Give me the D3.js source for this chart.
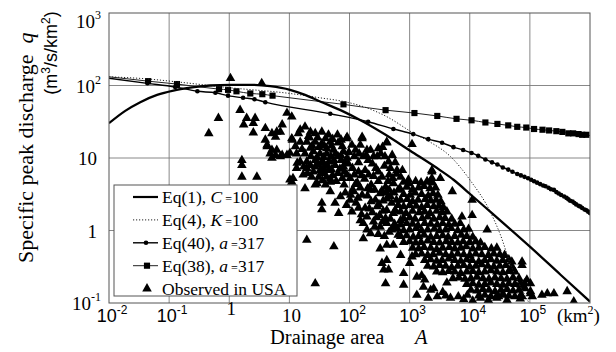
<!DOCTYPE html>
<html>
<head>
<meta charset="utf-8">
<script src="https://cdn.jsdelivr.net/npm/d3@7"></script>
<style>
  body { margin: 0; background: #fff; }
</style>
</head>
<body>
<div id="chart"></div>
<script>
// values, stored as [log10 A (km2), log10 q (m3/s/km2)]
const eq1Log = [[-2.00,1.48],[-1.73,1.65],[-1.48,1.77],[-1.20,1.87],[-0.93,1.93],[-0.65,1.97],[-0.32,2.00],
  [0.02,2.01],[0.35,2.01],[0.68,1.99],[1.01,1.94],[1.26,1.87],[1.51,1.78],[1.85,1.66],[2.23,1.50],[2.60,1.32],
  [3.01,1.10],[3.51,0.83],[3.73,0.70],[4.01,0.50],[4.34,0.26],[5.01,-0.23],[5.51,-0.61],[6.00,-0.98]];

const eq4Log = [[-2.00,2.12],[-1.35,2.09],[-0.87,2.05],[0.00,1.97],[1.01,1.89],[1.51,1.83],[1.90,1.78],[2.26,1.70],
  [2.62,1.57],[3.07,1.34],[3.34,1.22],[3.68,1.02],[4.01,0.69],[4.34,0.26],[4.51,-0.06],[4.68,-0.47],[4.83,-0.75],[4.98,-0.99]];

// first point is the line start, the rest carry a circle marker
const eq40Log = [[-2.00,2.10],[-1.36,2.03],[-0.90,1.98],[-0.53,1.92],[-0.23,1.90],[-0.02,1.86],[0.23,1.83],[0.42,1.81],
  [0.60,1.77],[1.68,1.61],[2.31,1.50],[2.73,1.40],[3.06,1.33],[3.31,1.26],[3.54,1.21],[3.73,1.15],[3.89,1.11],
  [4.03,1.07],[4.14,1.03],[4.26,0.98],[4.37,0.94],[4.46,0.91],[4.55,0.87],[4.64,0.84],[4.71,0.81],[4.79,0.78],
  [4.85,0.76],[4.91,0.74],[4.97,0.72],[5.02,0.70],[5.07,0.68],[5.12,0.66],[5.17,0.64],[5.22,0.62],[5.26,0.61],
  [5.31,0.59],[5.35,0.57],[5.40,0.56],[5.44,0.53],[5.48,0.51],[5.52,0.49],[5.57,0.47],[5.61,0.45],[5.64,0.43],
  [5.67,0.41],[5.71,0.40],[5.74,0.38],[5.77,0.36],[5.81,0.34],[5.84,0.33],[5.87,0.31],[5.91,0.29],[5.94,0.28],
  [5.97,0.26],[6.00,0.24]];

// first and last points are line ends, the rest carry a square marker
const eq38Log = [[-2.00,2.12],[-1.35,2.06],[-0.87,2.02],[-0.17,1.95],[-0.02,1.94],[0.12,1.92],[0.35,1.89],[0.55,1.88],
  [0.72,1.86],[1.90,1.74],[2.60,1.66],[3.08,1.62],[3.46,1.58],[3.78,1.54],[4.03,1.52],[4.26,1.49],[4.46,1.47],
  [4.64,1.45],[4.79,1.43],[4.94,1.42],[5.07,1.40],[5.21,1.39],[5.32,1.38],[5.44,1.37],[5.54,1.36],[5.64,1.34],
  [5.72,1.34],[5.81,1.33],[5.87,1.32],[5.94,1.32],[6.00,1.31]];

const observedLog = [
  // small basins, upper left
  [0.02,2.10],[0.54,2.03],[0.18,1.66],[-0.18,1.55],[0.29,1.55],[0.43,1.55],[0.40,1.48],[0.24,1.46],[0.40,1.35],
  [0.60,1.41],[-0.34,1.34],[0.71,1.34],[0.60,1.25],[0.79,1.36],[0.77,1.29],[0.63,1.16],[0.71,1.11],[0.68,1.06],
  [0.77,1.04],[0.88,1.04],[0.96,1.62],[1.04,1.57],[0.88,1.46],[0.85,1.36],[1.04,1.27],[0.21,0.97],[0.21,0.90],
  [0.21,0.74],[0.46,0.74],[1.01,0.70],[0.63,1.18],[0.79,1.11],[0.71,1.00],[0.85,1.02],[0.96,1.04],
  // 10 - 100 km2
  [1.18,1.39],[1.26,1.43],[1.35,1.36],[1.43,1.34],[1.54,1.36],[1.65,1.32],[1.18,1.22],[1.29,1.22],[1.43,1.22],
  [1.54,1.20],[1.62,1.13],[1.12,1.06],[1.26,1.06],[1.40,1.09],[1.51,1.06],[1.62,1.06],[1.18,0.95],[1.29,0.95],
  [1.43,0.97],[1.54,0.95],[1.12,0.86],[1.29,0.86],[1.43,0.88],[1.57,0.86],[1.65,0.83],[1.23,0.77],[1.37,0.74],
  [1.49,0.74],[1.62,0.74],[1.46,0.65],[1.60,0.63],[1.05,1.25],[1.35,1.14],[1.01,1.07],[1.13,0.93],[1.35,0.90],
  [1.06,0.72],[1.30,0.79],[1.15,1.34],[1.73,1.11],[1.80,1.32],[1.96,1.29],[1.81,1.21],[1.90,1.09],[1.81,1.02],
  [1.96,1.00],[1.76,0.90],[1.90,0.88],[1.81,0.79],[1.96,0.77],[1.68,1.22],[1.57,0.93],[1.51,0.83],
  [1.33,1.28],[1.47,1.28],[1.60,1.27],[1.72,1.26],[1.86,1.25],[1.38,1.17],[1.49,1.15],[1.58,1.17],[1.70,1.17],
  [1.88,1.16],[1.46,1.01],[1.57,1.01],[1.69,1.02],[1.74,0.97],[1.86,1.03],[1.36,1.02],[1.48,0.91],[1.63,0.90],
  [1.70,0.84],[1.84,0.85],[1.40,0.81],[1.56,0.79],[1.72,0.76],[1.88,0.72],[1.68,0.71],[1.78,0.68],[1.55,0.69],
  [1.92,0.81],[1.98,0.92],[1.99,1.08],[1.77,1.06],[1.66,0.95],[1.24,0.88],[1.21,1.12],[1.10,1.16],[1.32,1.30],
  [1.04,0.67],[1.26,0.58],[1.43,0.63],[1.68,0.67],[1.68,0.54],[1.54,0.38],[1.54,0.29],[1.82,0.24],[1.76,0.38],
  [1.85,0.47],[1.29,-0.13],[1.74,-0.22],[1.43,-0.73],
  // 100 - 1000 km2
  [2.01,0.42],[2.04,0.26],[2.15,0.31],[2.18,0.14],[2.29,0.19],[2.23,0.10],[2.29,0.01],[2.35,-0.04],[2.23,-0.11],
  [2.40,0.12],[2.51,0.05],[2.62,0.10],[2.73,0.05],[2.07,0.54],[2.21,0.49],[2.35,0.56],[2.51,0.51],[2.68,0.47],
  [2.46,0.33],[2.62,0.28],[2.73,0.24],[2.51,-0.25],[2.62,-0.20],[2.73,-0.20],[2.54,-0.45],[2.62,-0.41],[2.65,-0.54],
  [2.60,-0.73],[2.57,-0.54],
  [1.95,1.27],[2.04,1.18],[2.21,1.27],[2.18,1.18],[2.29,1.11],[2.48,1.13],[2.62,1.22],[2.46,1.02],[2.59,1.02],
  [2.23,1.02],[2.79,0.83],[2.68,0.86],[2.85,0.74],[2.73,0.65],[2.98,0.70],[3.37,0.83],[3.37,0.72],[3.51,0.72],
  [1.93,0.93],[2.05,0.86],[2.15,0.94],[2.26,0.83],[2.38,0.92],[2.48,0.81],[2.58,0.89],[2.01,0.72],[2.13,0.66],
  [2.25,0.71],[2.36,0.63],[2.48,0.68],[2.60,0.60],[2.72,0.72],[1.91,0.63],[2.05,0.56],[2.18,0.59],[2.30,0.48],
  [2.43,0.42],[2.56,0.41],[1.93,0.52],[1.95,0.35],[2.11,0.38],[2.26,0.31],[2.38,0.25],[2.50,0.21],[2.60,0.17],
  [2.81,0.35],[2.81,0.56],[2.85,0.14],[2.81,-0.06],[2.78,0.42],[2.35,1.11],[2.10,1.11],[1.86,0.97],[2.31,0.97],
  [2.55,1.15],[2.71,1.04],[2.76,0.94],[2.66,0.77],[2.15,0.81],[2.40,0.75],[2.61,0.52],
  [2.08,1.02],[2.16,1.06],[2.28,1.04],[2.40,1.02],[2.52,1.06],[2.65,0.95],[2.08,0.77],[2.20,0.76],[2.32,0.77],
  [2.44,0.86],[2.54,0.74],[2.64,0.68],[2.78,0.78],[2.88,0.83],[2.10,0.64],[2.30,0.58],[2.42,0.56],[2.54,0.55],
  [2.66,0.56],[2.74,0.52],[2.02,0.49],[2.14,0.45],[2.36,0.40],[2.49,0.36],[2.62,0.44],[2.70,0.38],[2.20,0.22],
  [2.33,0.30],[2.45,0.18],[2.56,0.27],[2.68,0.16],[2.76,0.28],[2.42,0.05],[2.55,0.12],[2.66,-0.02],[2.48,-0.05],
  [2.58,-0.08],
  [2.62,1.21],[3.04,1.19],[2.21,1.29],[3.37,0.81],
  // dense band, 1000 - 100000 km2
  [2.90,0.67],[2.99,0.65],[3.10,0.68],[3.19,0.66],[3.29,0.68],[3.38,0.66],
  [2.84,0.58],[2.95,0.60],[3.05,0.57],[3.15,0.59],[3.24,0.61],[3.34,0.58],[3.43,0.59],
  [2.90,0.50],[3.01,0.49],[3.09,0.52],[3.20,0.50],[3.31,0.48],[3.39,0.51],[3.47,0.49],
  [2.85,0.42],[2.96,0.43],[3.05,0.40],[3.14,0.42],[3.26,0.43],[3.35,0.41],[3.44,0.42],[3.52,0.40],
  [2.90,0.33],[3.00,0.35],[3.11,0.34],[3.20,0.32],[3.29,0.35],[3.40,0.33],[3.49,0.34],[3.56,0.32],
  [2.85,0.26],[2.94,0.24],[3.05,0.27],[3.16,0.25],[3.25,0.26],[3.34,0.24],[3.45,0.27],[3.54,0.25],[3.62,0.26],
  [2.90,0.17],[3.00,0.18],[3.09,0.16],[3.21,0.17],[3.30,0.19],[3.40,0.16],[3.50,0.18],[3.59,0.17],[3.70,0.16],
  [2.75,0.09],[2.85,0.08],[2.95,0.10],[3.05,0.09],[3.14,0.07],[3.25,0.10],[3.35,0.09],[3.46,0.08],[3.55,0.10],
  [3.65,0.08],[3.75,0.09],[3.84,0.10],
  [2.70,0.01],[2.80,0.02],[2.90,0.00],[3.00,0.01],[3.11,0.03],[3.20,0.00],[3.30,0.01],[3.41,0.02],[3.50,0.00],
  [3.60,0.01],[3.69,0.03],[3.80,0.00],[3.90,0.01],[3.98,0.02],
  [2.85,-0.08],[2.95,-0.07],[3.06,-0.09],[3.15,-0.08],[3.24,-0.06],[3.35,-0.09],[3.45,-0.08],[3.55,-0.07],
  [3.64,-0.09],[3.75,-0.08],[3.86,-0.06],[3.95,-0.08],[4.05,-0.09],
  [2.90,-0.16],[3.00,-0.15],[3.10,-0.17],[3.19,-0.16],[3.30,-0.14],[3.40,-0.16],[3.50,-0.17],[3.61,-0.15],
  [3.70,-0.16],[3.80,-0.17],[3.89,-0.15],[4.00,-0.16],[4.10,-0.15],[4.18,-0.17],
  [3.05,-0.24],[3.15,-0.25],[3.24,-0.23],[3.35,-0.24],[3.45,-0.26],[3.55,-0.24],[3.66,-0.23],[3.75,-0.25],
  [3.85,-0.24],[3.94,-0.22],[4.05,-0.25],[4.15,-0.24],[4.25,-0.23],[4.36,-0.25],[4.45,-0.24],
  [3.10,-0.33],[3.20,-0.32],[3.30,-0.34],[3.39,-0.33],[3.50,-0.31],[3.60,-0.33],[3.70,-0.34],[3.80,-0.32],
  [3.90,-0.33],[4.00,-0.34],[4.10,-0.32],[4.20,-0.33],[4.31,-0.34],[4.40,-0.32],[4.50,-0.33],[4.58,-0.34],
  [3.25,-0.41],[3.35,-0.40],[3.45,-0.42],[3.54,-0.41],[3.65,-0.39],[3.75,-0.41],[3.85,-0.42],[3.95,-0.40],
  [4.04,-0.41],[4.15,-0.43],[4.25,-0.41],[4.35,-0.40],[4.45,-0.42],[4.55,-0.41],[4.65,-0.40],
  [3.30,-0.49],[3.40,-0.50],[3.50,-0.48],[3.60,-0.49],[3.70,-0.51],[3.80,-0.49],[3.90,-0.48],[4.00,-0.50],
  [4.10,-0.49],[4.20,-0.47],[4.30,-0.49],[4.40,-0.50],[4.50,-0.49],[4.60,-0.48],[4.70,-0.50],
  [3.45,-0.57],[3.55,-0.58],[3.65,-0.56],[3.75,-0.57],[3.85,-0.59],[3.95,-0.57],[4.05,-0.56],[4.15,-0.58],
  [4.25,-0.57],[4.35,-0.55],[4.45,-0.57],[4.55,-0.58],[4.65,-0.56],[4.75,-0.57],
  [3.72,-0.66],[3.82,-0.65],[3.92,-0.67],[4.02,-0.66],[4.12,-0.64],[4.22,-0.66],[4.32,-0.67],[4.42,-0.65],
  [4.52,-0.66],[4.62,-0.67],[4.72,-0.65],[4.82,-0.66],
  [3.95,-0.74],[4.05,-0.73],[4.15,-0.75],[4.25,-0.74],[4.35,-0.72],[4.45,-0.74],[4.55,-0.75],[4.65,-0.73],
  [4.75,-0.74],[4.85,-0.75],[4.91,-0.73],
  [4.02,-0.82],[4.12,-0.83],[4.22,-0.81],[4.32,-0.82],[4.42,-0.84],[4.52,-0.82],[4.62,-0.81],[4.72,-0.83],
  [4.82,-0.82],[4.92,-0.80],
  [4.15,-0.90],[4.25,-0.89],[4.35,-0.91],[4.45,-0.90],[4.55,-0.88],[4.65,-0.90],[4.75,-0.91],[4.85,-0.89],
  // scattered edges of the band
  [2.90,-0.59],[2.90,-0.75],[3.04,-0.36],[3.12,-0.64],[3.23,-0.78],[3.12,-0.89],[3.31,-0.93],[3.46,-0.91],
  [3.68,-0.93],[3.81,-0.91],[3.96,-0.89],[4.18,-0.93],[4.31,-0.96],[4.45,-0.93],[4.62,-0.96],[4.87,-0.91],
  [5.01,-0.84],[5.04,-0.91],[5.20,-0.89],[5.29,-0.87],[5.40,-0.87],[5.62,-0.84],[5.73,-0.98],[4.84,-0.72],
  [4.95,-0.68],[4.87,-0.48],[5.01,-0.73],[4.84,-0.94],[4.56,-0.89],[4.48,-0.91],[4.73,-0.54],[4.70,-0.43],
  [4.87,-0.43],[4.90,-0.78],[5.01,-0.87],[3.71,0.54],[4.04,0.42],[4.04,0.21],[4.29,0.01],[3.87,0.19],
  [2.85,-0.34],[3.34,0.67],[3.00,-0.45],[3.20,-0.62],[3.25,-0.68],[3.40,-0.80],[3.55,-0.85],[3.62,-0.72],
  [3.35,-0.82],[3.60,-0.90],[3.90,-0.95],[4.05,-0.97]
];

const xTickExp = [-2, -1, 0, 1, 2, 3, 4, 5];
const xTickBase = ["10", "10", "1", "10", "10", "10", "10", "10"];
const xTickSup = ["-2", "-1", "", "", "2", "3", "4", "5"];
const yTickExp = [3, 2, 1, 0, -1];
const yTickBase = ["10", "10", "10", "1", "10"];
const yTickSup = ["3", "2", "", "", "-1"];

const legendItems = [
  {pre: "Eq(1), ", sym: "C", val: "100", kind: "eq1"},
  {pre: "Eq(4), ", sym: "K", val: "100", kind: "eq4"},
  {pre: "Eq(40), ", sym: "a", val: "317", kind: "eq40"},
  {pre: "Eq(38), ", sym: "a", val: "317", kind: "eq38"},
  {pre: "Observed in USA", sym: "", val: "", kind: "obs"}
];

const W = 616, H = 352;
const svg = d3.select("#chart").append("svg")
  .attr("width", W).attr("height", H)
  .style("font-family", "'Liberation Serif', 'Times New Roman', serif");

const x = d3.scaleLog().domain([1e-2, 1e6]).range([109, 590]);
const y = d3.scaleLog().domain([1e-1, 1e3]).range([303, 13]);
const px = d => x(Math.pow(10, d[0]));
const py = d => y(Math.pow(10, d[1]));

// grid
svg.append("g").selectAll("line")
  .data(xTickExp.slice(1).map(e => Math.pow(10, e)))
  .join("line")
  .attr("x1", d => x(d)).attr("x2", d => x(d))
  .attr("y1", y.range()[1]).attr("y2", y.range()[0])
  .attr("stroke", "#7a7a7a").attr("stroke-width", 0.9);
svg.append("g").selectAll("line")
  .data([1e2, 1e1, 1])
  .join("line")
  .attr("x1", x.range()[0]).attr("x2", x.range()[1])
  .attr("y1", d => y(d)).attr("y2", d => y(d))
  .attr("stroke", "#7a7a7a").attr("stroke-width", 0.9);

svg.append("defs").append("clipPath").attr("id", "plotclip")
  .append("rect")
  .attr("x", x.range()[0]).attr("y", y.range()[1])
  .attr("width", x.range()[1] - x.range()[0])
  .attr("height", y.range()[0] - y.range()[1]);

const plot = svg.append("g").attr("clip-path", "url(#plotclip)");

// observed triangles
const tri = d3.symbol().type(d3.symbolTriangle).size(40);
plot.append("g").selectAll("path")
  .data(observedLog)
  .join("path")
  .attr("d", tri)
  .attr("transform", d => "translate(" + px(d) + "," + py(d) + ")")
  .attr("fill", "#000");

const line = d3.line().x(px).y(py).curve(d3.curveMonotoneX);

plot.append("path").datum(eq38Log).attr("d", line)
  .attr("fill", "none").attr("stroke", "#222").attr("stroke-width", 1);
const sq = d3.symbol().type(d3.symbolSquare).size(38);
plot.append("g").selectAll("path")
  .data(eq38Log.slice(1, -1))
  .join("path")
  .attr("d", sq)
  .attr("transform", d => "translate(" + px(d) + "," + py(d) + ")")
  .attr("fill", "#000");

plot.append("path").datum(eq40Log).attr("d", line)
  .attr("fill", "none").attr("stroke", "#000").attr("stroke-width", 1.4);
plot.append("g").selectAll("circle")
  .data(eq40Log.slice(1))
  .join("circle")
  .attr("cx", px).attr("cy", py).attr("r", 2.3)
  .attr("fill", "#000");

plot.append("path").datum(eq4Log).attr("d", line)
  .attr("fill", "none").attr("stroke", "#222").attr("stroke-width", 1)
  .attr("stroke-dasharray", "1.2,1.8");

plot.append("path").datum(eq1Log).attr("d", line)
  .attr("fill", "none").attr("stroke", "#000").attr("stroke-width", 2.3);

// frame
svg.append("rect")
  .attr("x", x.range()[0]).attr("y", y.range()[1])
  .attr("width", x.range()[1] - x.range()[0])
  .attr("height", y.range()[0] - y.range()[1])
  .attr("fill", "none").attr("stroke", "#555").attr("stroke-width", 1);

// legend
const lg = svg.append("g");
lg.append("rect").attr("x", 114).attr("y", 185).attr("width", 183).attr("height", 111)
  .attr("fill", "#fff").attr("stroke", "#555").attr("stroke-width", 1);
legendItems.forEach((it, i) => {
  const cy = 197 + i * 22.9;
  if (it.kind === "obs") {
    lg.append("path").attr("d", tri).attr("transform", "translate(147," + cy + ")").attr("fill", "#000");
  } else {
    const ln = lg.append("line").attr("x1", 133).attr("x2", 158).attr("y1", cy).attr("y2", cy)
      .attr("stroke", "#000");
    if (it.kind === "eq1") ln.attr("stroke-width", 2.2);
    if (it.kind === "eq4") ln.attr("stroke-width", 1).attr("stroke-dasharray", "1.2,1.8").attr("stroke", "#222");
    if (it.kind === "eq40") {
      ln.attr("stroke-width", 1.4);
      lg.append("circle").attr("cx", 146).attr("cy", cy).attr("r", 2.3);
    }
    if (it.kind === "eq38") {
      ln.attr("stroke-width", 1).attr("stroke", "#222");
      lg.append("path").attr("d", sq).attr("transform", "translate(147," + cy + ")");
    }
  }
  const t = lg.append("text").attr("x", 162).attr("y", cy + 6).attr("font-size", 17.5);
  t.append("tspan").text(it.pre);
  if (it.sym) {
    t.append("tspan").attr("font-style", "italic").text(it.sym);
    t.append("tspan").attr("font-size", 12).attr("dx", 3).text("=");
    t.append("tspan").text(it.val);
  }
});

// x tick labels
xTickExp.forEach((e, i) => {
  const cx = x(Math.pow(10, e));
  if (xTickSup[i]) {
    const t = svg.append("text").attr("x", cx + 3).attr("y", 322)
      .attr("text-anchor", "middle").attr("font-size", 18)
      .style("font-family", "'Liberation Sans', Arial, sans-serif");
    t.append("tspan").text(xTickBase[i]);
    t.append("tspan").attr("font-size", 12).attr("dy", -8).text(xTickSup[i]);
  } else {
    svg.append("text").attr("x", cx + 2).attr("y", xTickBase[i] === "1" ? 315 : 322)
      .attr("text-anchor", "middle").attr("font-size", 19).text(xTickBase[i]);
  }
});
const km = svg.append("text").attr("x", 557).attr("y", 322).attr("font-size", 19);
km.append("tspan").text("(km");
km.append("tspan").attr("font-size", 12).attr("dy", -8).text("2");
km.append("tspan").attr("dy", 8).text(")");

// y tick labels
yTickExp.forEach((e, i) => {
  const gy = y(Math.pow(10, e));
  const base = e === 3 ? 28 : gy + 7;
  const t = svg.append("text").attr("x", yTickSup[i] ? 101 : 97).attr("y", base)
    .attr("text-anchor", "end").attr("font-size", 19);
  t.append("tspan").text(yTickBase[i]);
  if (yTickSup[i]) t.append("tspan").attr("font-size", 12).attr("dy", -9).text(yTickSup[i]);
});

// axis titles
const xt = svg.append("text").attr("x", 270).attr("y", 344).attr("font-size", 20.5);
xt.append("tspan").text("Drainage area");
xt.append("tspan").attr("x", 415).attr("font-style", "italic").text("A");

const yt = svg.append("text").attr("transform", "translate(33,263) rotate(-90)")
  .attr("font-size", 22);
yt.append("tspan").text("Specific peak discharge");
yt.append("tspan").attr("dx", 11).attr("font-style", "italic").text("q");

const yu = svg.append("text").attr("transform", "translate(57,53) rotate(-90)")
  .attr("text-anchor", "middle").attr("font-size", 18)
  .style("font-family", "'Liberation Sans', Arial, sans-serif");
yu.append("tspan").text("(m");
yu.append("tspan").attr("font-size", 12).attr("dy", -7).text("3");
yu.append("tspan").attr("dy", 7).text("/s/km");
yu.append("tspan").attr("font-size", 12).attr("dy", -7).text("2");
yu.append("tspan").attr("dy", 7).text(")");
</script>
</body>
</html>
